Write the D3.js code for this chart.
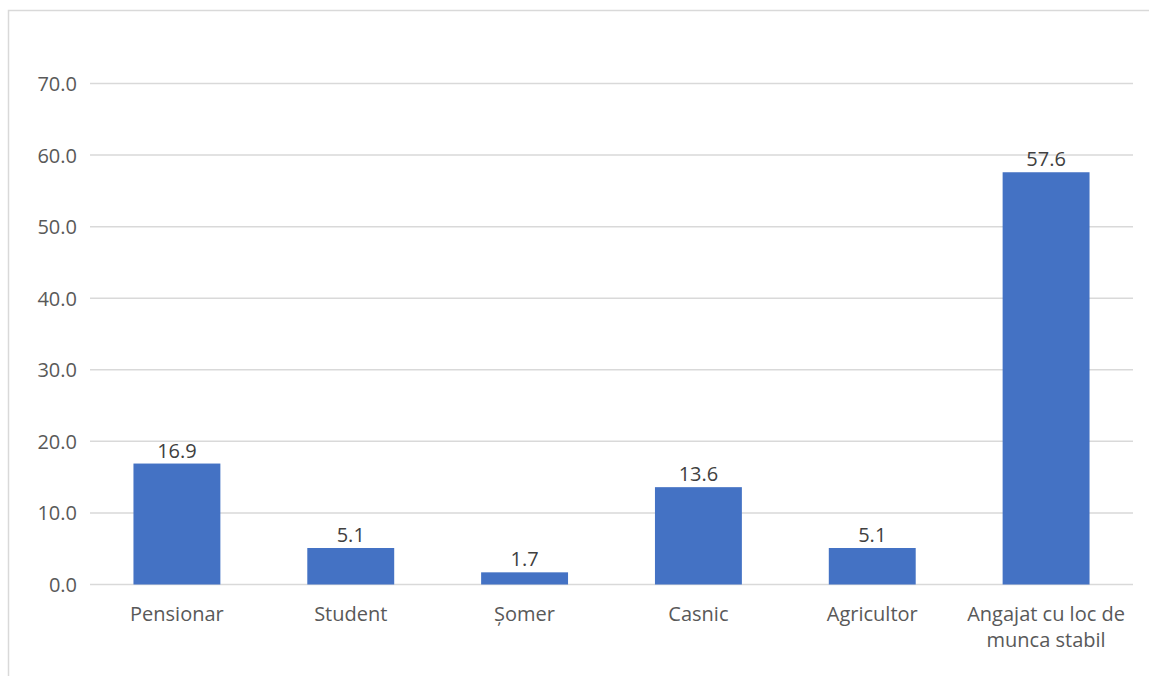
<!DOCTYPE html>
<html><head><meta charset="utf-8">
<script src="https://cdn.jsdelivr.net/npm/d3@7"></script>
<style>body{margin:0;background:#fff;font-family:"Open Sans",sans-serif;}</style>
</head><body>
<svg id="c" width="1149" height="676"></svg>
<script>
const categories = ["Pensionar","Student","Șomer","Casnic","Agricultor","Angajat cu loc de munca stabil"];
const values = [16.9, 5.1, 1.7, 13.6, 5.1, 57.6];
const yTicks = [0,10,20,30,40,50,60,70];

(function(){
const FS = 20;
const svg = d3.select("#c");
svg.append("rect").attr("x",8.5).attr("y",10.5).attr("width",1160).attr("height",700)
  .attr("fill","none").attr("stroke","#d9d9d9").attr("stroke-width",1.5);

const pL=90, pR=1133, pT=83.5, pB=584.5;
const x = d3.scaleBand().domain(categories).range([pL,pR]).paddingInner(0.5).paddingOuter(0.25);
const y = d3.scaleLinear().domain([0,70]).range([pB,pT]);

svg.append("g").selectAll("line").data(yTicks).join("line")
  .attr("x1",pL).attr("x2",pR).attr("y1",d=>y(d)).attr("y2",d=>y(d))
  .attr("stroke","#d9d9d9").attr("stroke-width",1.5);

const yAxis = d3.axisLeft(y).tickValues(yTicks).tickFormat(d3.format(".1f")).tickSize(0).tickPadding(0);
const ya = svg.append("g").attr("transform",`translate(${pL-13},0)`).call(yAxis);
ya.select(".domain").remove();
ya.selectAll("text").attr("font-size",FS).attr("fill","#595959").attr("font-family","Open Sans").attr("dy","0.35em");

svg.append("g").selectAll("rect").data(values).join("rect")
  .attr("x",(d,i)=>x(categories[i])).attr("width",x.bandwidth())
  .attr("y",d=>y(d)).attr("height",d=>y(0)-y(d)).attr("fill","#4472c4");

svg.append("g").selectAll("text").data(values).join("text")
  .attr("x",(d,i)=>x(categories[i])+x.bandwidth()/2).attr("y",d=>y(d)-6)
  .attr("text-anchor","middle").attr("font-size",FS).attr("fill","#404040")
  .text(d=>d3.format(".1f")(d));

const lines = {"Angajat cu loc de munca stabil":["Angajat cu loc de","munca stabil"]};
const xl = svg.append("g").selectAll("text").data(categories).join("text")
  .attr("x",d=>x(d)+x.bandwidth()/2).attr("y",pB+36.5)
  .attr("text-anchor","middle").attr("font-size",FS).attr("fill","#595959");
xl.each(function(d){
  const t=d3.select(this); const ls=lines[d]||[d];
  ls.forEach((l,i)=>t.append("tspan").attr("x",x(d)+x.bandwidth()/2).attr("dy",i?26:0).text(l));
});
})();
</script>
</body></html>
